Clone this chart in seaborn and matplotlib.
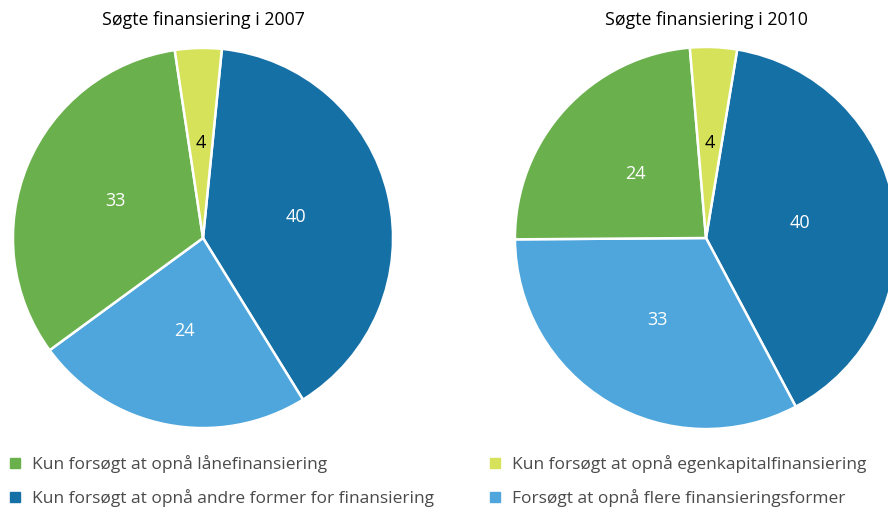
import matplotlib
matplotlib.use("Agg")
import matplotlib.pyplot as plt
import seaborn as sns
from matplotlib.lines import Line2D

# Data
categories = [
    "Kun forsøgt at opnå andre former for finansiering",
    "Forsøgt at opnå flere finansieringsformer",
    "Kun forsøgt at opnå lånefinansiering",
    "Kun forsøgt at opnå egenkapitalfinansiering",
]
values_2007 = [40, 24, 33, 4]
values_2010 = [40, 33, 24, 4]
titles = ["Søgte finansiering i 2007", "Søgte finansiering i 2010"]

colors = ["#1570a6", "#4ea6dc", "#6ab04c", "#d5e25a"]
label_colors = ["white", "white", "white", "black"]

sns.set_style("white")
plt.rcParams["font.family"] = ["Open Sans", "DejaVu Sans"]

W, H = 888, 509
fig = plt.figure(figsize=(W / 100, H / 100), dpi=100)

def draw_pie(vals, cx, cy, r, startangle, title):
    ax = fig.add_axes([(cx - r) / W, 1 - (cy + r) / H, 2 * r / W, 2 * r / H])
    total = sum(vals)
    wedges, _, autotexts = ax.pie(
        vals, colors=sns.color_palette(colors), startangle=startangle,
        counterclock=False, radius=1,
        autopct=lambda p: f"{round(p * total / 100):.0f}", pctdistance=0.5,
        wedgeprops=dict(edgecolor="white", linewidth=1.8),
        textprops=dict(fontsize=13),
    )
    for t, c in zip(autotexts, label_colors):
        t.set_color(c)
    ax.set_xlim(-1.005, 1.005)
    ax.set_ylim(-1.005, 1.005)
    ax.set_aspect("equal")
    ax.axis("off")
    fig.text(cx / W, 1 - 20 / H, title, ha="center", va="center",
             fontsize=12.8, color="black")

draw_pie(values_2007, 203, 238, 191, 84.3, titles[0])
draw_pie(values_2010, 706, 238, 192, 80.6, titles[1])

def handle(c):
    return Line2D([], [], marker="s", linestyle="none", markersize=7,
                  markerfacecolor=c, markeredgecolor=c)

leg_kw = dict(frameon=False, fontsize=12.5, handlelength=0.8,
              handletextpad=0.6, labelspacing=0.95, borderaxespad=0,
              borderpad=0, labelcolor="#4a4a4a")
fig.legend([handle(colors[2]), handle(colors[0])],
           [categories[2], categories[0]],
           loc="upper left", bbox_to_anchor=(8 / W, 1 - 455 / H), **leg_kw)
fig.legend([handle(colors[3]), handle(colors[1])],
           [categories[3], categories[1]],
           loc="upper left", bbox_to_anchor=(488 / W, 1 - 455 / H), **leg_kw)

fig.savefig("out.png", dpi=100)
